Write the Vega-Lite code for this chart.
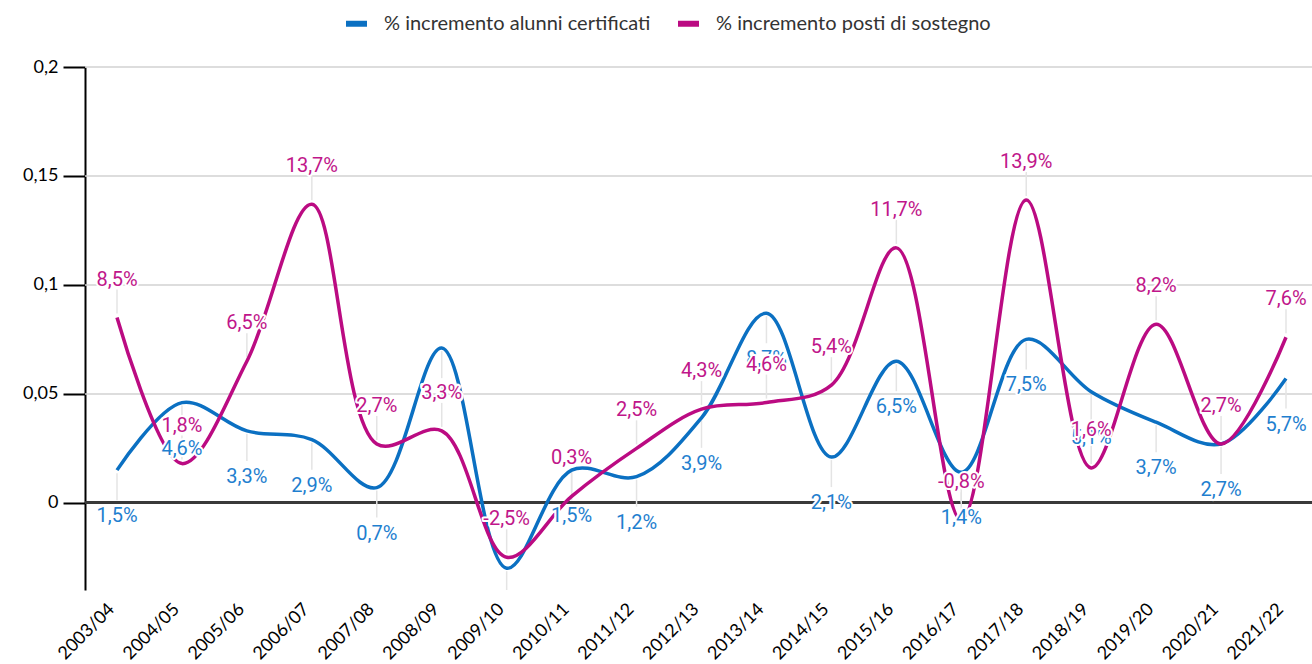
{
  "$schema": "https://vega.github.io/schema/vega-lite/v6.json",
  "width": 1227,
  "height": 523,
  "autosize": {"type": "none"},
  "padding": {"left": 85, "top": 67, "right": 0, "bottom": 74},
  "background": "white",
  "config": {
    "view": {"stroke": null},
    "locale": {"number": {"decimal": ",", "thousands": ".", "grouping": [3], "currency": ["€", ""], "minus": "-"}},
    "font": "Lato"
  },
  "datasets": {
    "griglia": [{"t": 0.05}, {"t": 0.1}, {"t": 0.15}, {"t": 0.2}],
    "serie": [
      {"anno": "2003/04", "serie": "% incremento alunni certificati", "valore": 0.015},
      {"anno": "2004/05", "serie": "% incremento alunni certificati", "valore": 0.046},
      {"anno": "2005/06", "serie": "% incremento alunni certificati", "valore": 0.033},
      {"anno": "2006/07", "serie": "% incremento alunni certificati", "valore": 0.029},
      {"anno": "2007/08", "serie": "% incremento alunni certificati", "valore": 0.007},
      {"anno": "2008/09", "serie": "% incremento alunni certificati", "valore": 0.071},
      {"anno": "2009/10", "serie": "% incremento alunni certificati", "valore": -0.030},
      {"anno": "2010/11", "serie": "% incremento alunni certificati", "valore": 0.015},
      {"anno": "2011/12", "serie": "% incremento alunni certificati", "valore": 0.012},
      {"anno": "2012/13", "serie": "% incremento alunni certificati", "valore": 0.039},
      {"anno": "2013/14", "serie": "% incremento alunni certificati", "valore": 0.087},
      {"anno": "2014/15", "serie": "% incremento alunni certificati", "valore": 0.021},
      {"anno": "2015/16", "serie": "% incremento alunni certificati", "valore": 0.065},
      {"anno": "2016/17", "serie": "% incremento alunni certificati", "valore": 0.014},
      {"anno": "2017/18", "serie": "% incremento alunni certificati", "valore": 0.075},
      {"anno": "2018/19", "serie": "% incremento alunni certificati", "valore": 0.051},
      {"anno": "2019/20", "serie": "% incremento alunni certificati", "valore": 0.037},
      {"anno": "2020/21", "serie": "% incremento alunni certificati", "valore": 0.027},
      {"anno": "2021/22", "serie": "% incremento alunni certificati", "valore": 0.057},
      {"anno": "2003/04", "serie": "% incremento posti di sostegno", "valore": 0.085},
      {"anno": "2004/05", "serie": "% incremento posti di sostegno", "valore": 0.018},
      {"anno": "2005/06", "serie": "% incremento posti di sostegno", "valore": 0.065},
      {"anno": "2006/07", "serie": "% incremento posti di sostegno", "valore": 0.137},
      {"anno": "2007/08", "serie": "% incremento posti di sostegno", "valore": 0.027},
      {"anno": "2008/09", "serie": "% incremento posti di sostegno", "valore": 0.033},
      {"anno": "2009/10", "serie": "% incremento posti di sostegno", "valore": -0.025},
      {"anno": "2010/11", "serie": "% incremento posti di sostegno", "valore": 0.003},
      {"anno": "2011/12", "serie": "% incremento posti di sostegno", "valore": 0.025},
      {"anno": "2012/13", "serie": "% incremento posti di sostegno", "valore": 0.043},
      {"anno": "2013/14", "serie": "% incremento posti di sostegno", "valore": 0.046},
      {"anno": "2014/15", "serie": "% incremento posti di sostegno", "valore": 0.054},
      {"anno": "2015/16", "serie": "% incremento posti di sostegno", "valore": 0.117},
      {"anno": "2016/17", "serie": "% incremento posti di sostegno", "valore": -0.008},
      {"anno": "2017/18", "serie": "% incremento posti di sostegno", "valore": 0.139},
      {"anno": "2018/19", "serie": "% incremento posti di sostegno", "valore": 0.016},
      {"anno": "2019/20", "serie": "% incremento posti di sostegno", "valore": 0.082},
      {"anno": "2020/21", "serie": "% incremento posti di sostegno", "valore": 0.027},
      {"anno": "2021/22", "serie": "% incremento posti di sostegno", "valore": 0.076}
    ]
  },
  "data": {"name": "serie"},
  "encoding": {
    "x": {
      "field": "anno", "type": "ordinal", "sort": null,
      "scale": {"type": "point", "range": [32, 1201], "padding": 0},
      "axis": {"title": null, "domain": false, "ticks": false, "grid": false, "labelAngle": -45, "labelFont": "Lato", "labelFontSize": 18, "labelColor": "#000", "labelPadding": 10, "labelOffset": -12}
    },
    "y": {
      "field": "valore", "type": "quantitative",
      "scale": {"domain": [-0.04, 0.2], "nice": false, "zero": false},
      "axis": {"title": null, "grid": false, "values": [0, 0.05, 0.1, 0.15, 0.2], "format": "~g", "labelFont": "Lato", "labelFontSize": 18, "labelColor": "#000", "labelPadding": 5, "domainColor": "#000", "domainWidth": 2, "tickColor": "#000", "tickWidth": 2, "tickSize": 22}
    }
  },
  "layer": [
    {
      "data": {"name": "griglia"},
      "mark": {"type": "rule", "color": "#d2d2d2", "strokeWidth": 1.5},
      "encoding": {"y": {"field": "t", "type": "quantitative"}, "x": null}
    },
    {
      "mark": {"type": "rule", "color": "#3a3a3a", "strokeWidth": 2},
      "encoding": {"y": {"datum": 0}, "x": null}
    },
    {
      "transform": [{"filter": "datum.serie === '% incremento posti di sostegno'"}],
      "mark": {"type": "rule", "color": "#e4e4e4", "strokeWidth": 1.5, "yOffset": -4, "y2Offset": -28, "clip": true},
      "encoding": {"y2": {"field": "valore"}}
    },
    {
      "transform": [{"filter": "datum.serie === '% incremento alunni certificati'"}],
      "mark": {"type": "rule", "color": "#e4e4e4", "strokeWidth": 1.5, "yOffset": 3, "y2Offset": 30, "clip": true},
      "encoding": {"y2": {"field": "valore"}}
    },
    {
      "mark": {"type": "line", "interpolate": "catmull-rom", "strokeWidth": 3.5},
      "encoding": {
        "color": {
          "field": "serie", "type": "nominal",
          "scale": {"domain": ["% incremento alunni certificati", "% incremento posti di sostegno"], "range": ["#0b70c2", "#bb0b82"]},
          "legend": {"title": null, "orient": "none", "legendX": 258, "legendY": -57, "direction": "horizontal", "symbolType": "stroke", "symbolSize": 441, "symbolStrokeWidth": 6, "labelFont": "Lato", "labelFontSize": 20, "labelColor": "#333", "labelOffset": 14, "columnPadding": 15, "labelLimit": 400}
        }
      }
    },
    {
      "transform": [{"filter": "datum.serie === '% incremento alunni certificati'"}],
      "mark": {"type": "text", "font": "Roboto", "fontSize": 20, "dy": 46, "baseline": "middle", "stroke": "white", "strokeWidth": 4, "strokeJoin": "round", "fill": "white", "clip": true},
      "encoding": {"text": {"field": "valore", "type": "quantitative", "format": ".1%"}}
    },
    {
      "transform": [{"filter": "datum.serie === '% incremento alunni certificati'"}],
      "mark": {"type": "text", "font": "Roboto", "fontSize": 20, "dy": 46, "baseline": "middle", "color": "#1f7fcf", "clip": true},
      "encoding": {"text": {"field": "valore", "type": "quantitative", "format": ".1%"}}
    },
    {
      "transform": [{"filter": "datum.serie === '% incremento posti di sostegno'"}],
      "mark": {"type": "text", "font": "Roboto", "fontSize": 20, "dy": -38, "baseline": "middle", "stroke": "white", "strokeWidth": 4, "strokeJoin": "round", "fill": "white", "clip": true},
      "encoding": {"text": {"field": "valore", "type": "quantitative", "format": ".1%"}}
    },
    {
      "transform": [{"filter": "datum.serie === '% incremento posti di sostegno'"}],
      "mark": {"type": "text", "font": "Roboto", "fontSize": 20, "dy": -38, "baseline": "middle", "color": "#c0168a", "clip": true},
      "encoding": {"text": {"field": "valore", "type": "quantitative", "format": ".1%"}}
    }
  ]
}
